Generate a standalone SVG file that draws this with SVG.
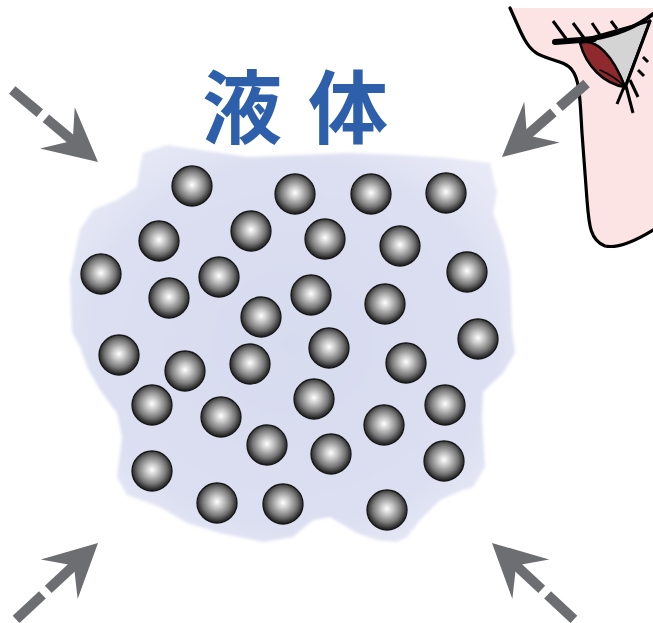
<svg xmlns="http://www.w3.org/2000/svg" xmlns:xlink="http://www.w3.org/1999/xlink" width="653" height="623" viewBox="0 0 653 623">
  <style>
    .p { fill: url(#ball); stroke: #161616; stroke-width: 1.3; }
    .ink { fill: none; stroke: #000; stroke-linecap: round; stroke-linejoin: round; }
    .lash { fill: none; stroke: #000; stroke-width: 3; stroke-linecap: butt; }
    .arrow { fill: #6d6e71; }
    .label { font-family: "Noto Sans CJK JP", "Noto Sans CJK SC", sans-serif; font-weight: 700; font-size: 80px; fill: #2d5fab; }
  </style>
  <defs>
    <radialGradient id="ball" cx="50%" cy="47%" r="52%">
      <stop offset="0" stop-color="#ffffff"/>
      <stop offset="0.3" stop-color="#c6c6c6"/>
      <stop offset="0.68" stop-color="#777777"/>
      <stop offset="0.9" stop-color="#383838"/>
      <stop offset="1" stop-color="#1e1e1e"/>
    </radialGradient>
    <radialGradient id="liquidFill" cx="50%" cy="50%" r="60%">
      <stop offset="0" stop-color="#d7dbef"/>
      <stop offset="0.75" stop-color="#dcdff1"/>
      <stop offset="1" stop-color="#e7e9f6"/>
    </radialGradient>
    <filter id="soft" x="-5%" y="-5%" width="110%" height="110%">
      <feGaussianBlur stdDeviation="1.6"/>
    </filter>
    <!-- dashed arrow pointing along +x, tip at the origin -->
    <g id="arrow" class="arrow">
      <rect x="-112" y="-5" width="36" height="10"/>
      <rect x="-68" y="-5" width="36" height="10"/>
      <path d="M0,0 L-53,-27 L-33,0 L-53,27 Z"/>
    </g>
  </defs>

  <rect width="653" height="623" fill="#fff"/>

  <!-- liquid body -->
  <g id="liquid">
    <path filter="url(#soft)" fill="url(#liquidFill)" d="M143,153 L167,145 L200,150 L247,157 L300,155 L350,153 L400,155 L450,158 L490,163 L497,193 L493,213 L503,240 L510,270 L512,330 L515,353 L503,373 L483,392 L482,420 L485,467 L473,487 L463,490 L440,500 L420,520 L407,537 L397,542 L377,540 L357,533 L330,517 L313,520 L293,537 L263,542 L220,533 L187,523 L160,507 L127,495 L117,477 L122,437 L117,413 L100,390 L87,367 L80,347 L72,332 L70,277 L80,230 L93,210 L117,200 L137,187 L140,167 Z"/>
  </g>

  <!-- particles -->
  <g id="particles">
    <circle class="p" cx="192" cy="186" r="20"/>
    <circle class="p" cx="295" cy="194" r="20"/>
    <circle class="p" cx="371" cy="194" r="20"/>
    <circle class="p" cx="446" cy="193" r="20"/>
    <circle class="p" cx="159" cy="241" r="20"/>
    <circle class="p" cx="251" cy="231" r="20"/>
    <circle class="p" cx="325" cy="239" r="20"/>
    <circle class="p" cx="400" cy="246" r="20"/>
    <circle class="p" cx="101" cy="274" r="20"/>
    <circle class="p" cx="219" cy="277" r="20"/>
    <circle class="p" cx="169" cy="298" r="20"/>
    <circle class="p" cx="311" cy="295" r="20"/>
    <circle class="p" cx="385" cy="304" r="20"/>
    <circle class="p" cx="467" cy="272" r="20"/>
    <circle class="p" cx="261" cy="317" r="20"/>
    <circle class="p" cx="119" cy="355" r="20"/>
    <circle class="p" cx="185" cy="371" r="20"/>
    <circle class="p" cx="250" cy="364" r="20"/>
    <circle class="p" cx="329" cy="348" r="20"/>
    <circle class="p" cx="406" cy="363" r="20"/>
    <circle class="p" cx="478" cy="339" r="20"/>
    <circle class="p" cx="152" cy="405" r="20"/>
    <circle class="p" cx="221" cy="417" r="20"/>
    <circle class="p" cx="314" cy="399" r="20"/>
    <circle class="p" cx="384" cy="425" r="20"/>
    <circle class="p" cx="445" cy="405" r="20"/>
    <circle class="p" cx="267" cy="445" r="20"/>
    <circle class="p" cx="331" cy="454" r="20"/>
    <circle class="p" cx="444" cy="461" r="20"/>
    <circle class="p" cx="152" cy="471" r="20"/>
    <circle class="p" cx="217" cy="503" r="20"/>
    <circle class="p" cx="283" cy="504" r="20"/>
    <circle class="p" cx="387" cy="510" r="20"/>
  </g>

  <!-- title -->
  <g id="title">
    <text class="label" x="202" y="137" letter-spacing="26">液体</text>
  </g>

  <!-- observer's face -->
  <g id="face">
    <path fill="#fde4e4" d="M510,8 C520,30 525,45 535,52 C545,60 565,60 572,70 C580,80 580,100 582,133 L587,200 C589,225 590,240 605,246 C620,249 640,238 653,230 L653,8 Z"/>
    <path class="ink" stroke-width="3.2" d="M510,8 C520,30 525,45 535,52 C545,60 565,60 572,70 C580,80 580,100 582,133 L587,200 C589,225 590,240 605,246 C620,249 640,238 653,230"/>
    <!-- eye -->
    <path fill="#d4d4d4" stroke="#000" stroke-width="2.5" stroke-linejoin="round" d="M583,40 L650,21 L625,87 C615,62 600,46 583,40 Z"/>
    <path fill="#8e2a2e" stroke="#000" stroke-width="2.5" stroke-linejoin="round" d="M580,43 C596,38 613,55 625,87 C604,84 586,66 580,43 Z"/>
    <path class="ink" stroke-width="1.6" d="M600,70 C609,74 617,79 624,86"/>
    <line class="ink" x1="650" y1="21" x2="625" y2="88" stroke-width="3.2"/>
    <path class="ink" stroke-width="6" stroke-linecap="butt" d="M555,42 L594,39"/>
    <path class="ink" stroke-width="4" d="M592,39 C612,36 635,28 653,14"/>
    <line class="lash" x1="553" y1="21" x2="567" y2="40"/>
    <line class="lash" x1="573" y1="23" x2="584" y2="38"/>
    <line class="lash" x1="592" y1="23" x2="600" y2="35"/>
    <line class="lash" x1="611" y1="21" x2="617" y2="29"/>
    <line class="lash" x1="643" y1="57" x2="648" y2="62"/>
    <line class="lash" x1="638" y1="70" x2="644" y2="76"/>
    <line class="lash" x1="630" y1="80" x2="638" y2="97"/>
    <line class="lash" x1="626" y1="86" x2="633" y2="113"/>
    <line class="lash" x1="624" y1="87" x2="617" y2="104"/>
  </g>

  <!-- pressure arrows -->
  <g id="connectors">
    <use xlink:href="#arrow" transform="translate(98,162) rotate(40)"/>
    <use xlink:href="#arrow" transform="translate(502,157) rotate(139)"/>
    <use xlink:href="#arrow" transform="translate(98,543) rotate(-43)"/>
    <use xlink:href="#arrow" transform="translate(492,543) rotate(-137)"/>
  </g>
</svg>
